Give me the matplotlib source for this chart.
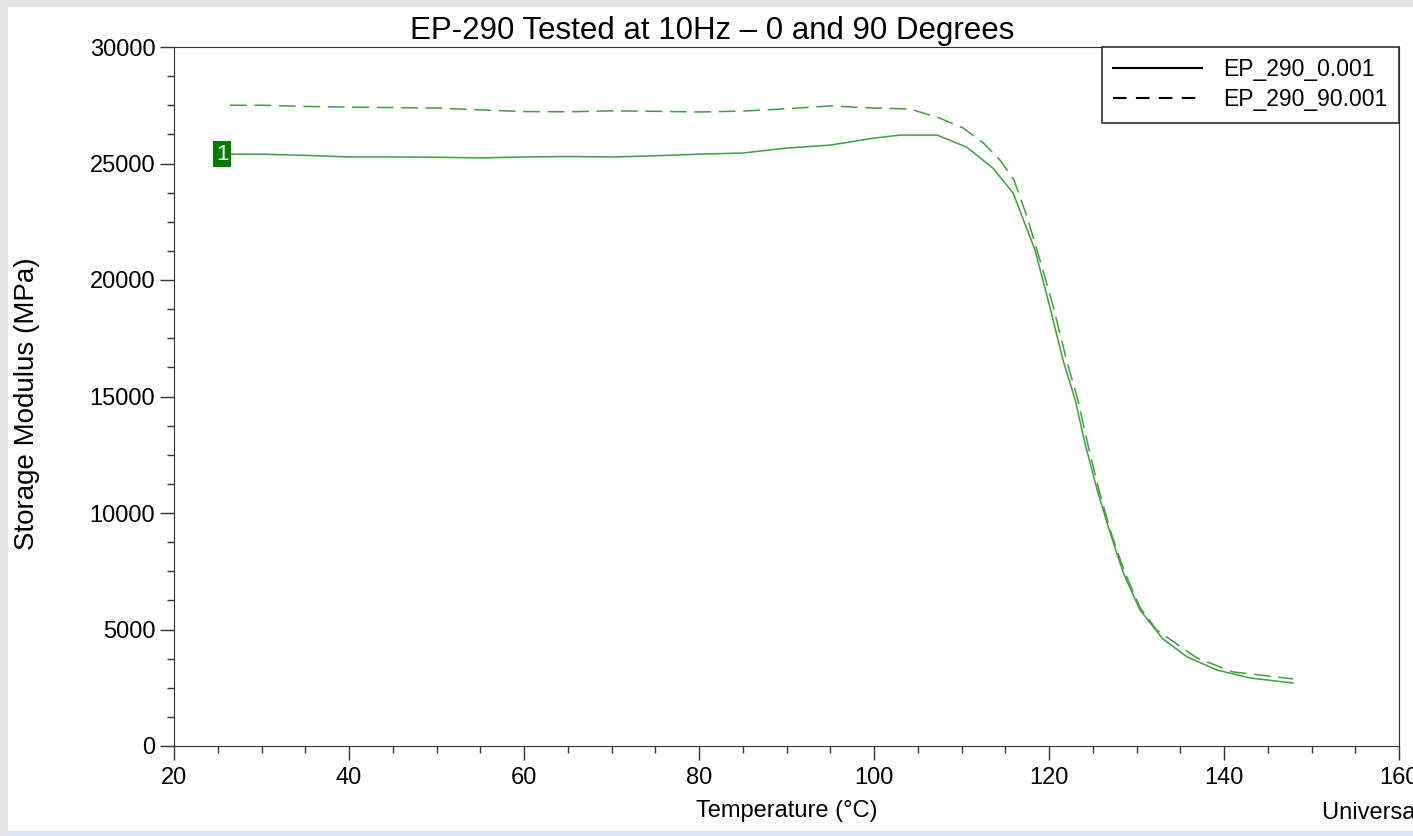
import matplotlib.pyplot as plt
from matplotlib.lines import Line2D
from matplotlib.patches import Rectangle
from matplotlib.ticker import MultipleLocator

plt.rcParams['font.family'] = ['Liberation Sans', 'DejaVu Sans']

# EP_290_0.001 (solid)
temp_0 = [26.4, 30, 35, 40, 45, 50, 55, 60, 65, 70, 75, 80, 85, 90, 95, 100, 103,
          107.2, 110.6, 113.6, 115.9, 118.4, 120.1, 121.6, 123.0, 124.1, 125.5,
          127.0, 128.5, 130.4, 133.0, 135.8, 139.2, 143.0, 147.9]
mod_0 = [25400, 25400, 25350, 25280, 25280, 25270, 25240, 25280, 25300, 25280, 25330,
         25400, 25450, 25660, 25790, 26090, 26220, 26220, 25700, 24800, 23730, 21290,
         18840, 16570, 14850, 13000, 10990, 9140, 7420, 5840, 4600, 3820, 3260,
         2920, 2700]

# EP_290_90.001 (dashed)
temp_90 = [26.4, 30, 35, 40, 45, 50, 55, 60, 65, 70, 75, 80, 85, 90, 95, 100, 104.1,
           107.5, 110.2, 112.5, 114.4, 116.0, 117.5, 119.2, 120.5, 122.0, 123.3,
           124.4, 125.7, 127.1, 128.6, 130.4, 132.3, 136.9, 141.0, 147.9]
mod_90 = [27500, 27500, 27450, 27420, 27400, 27380, 27300, 27230, 27220, 27260, 27240,
          27210, 27250, 27350, 27470, 27380, 27340, 26950, 26520, 25880, 25150, 24290,
          22700, 20560, 18840, 16570, 14850, 13000, 10990, 9140, 7500, 5950, 4980,
          3780, 3180, 2880]

labels = ['EP_290_0.001', 'EP_290_90.001']
line_color = '#3f9f3f'

fig = plt.figure(figsize=(14.13, 8.36), dpi=100, facecolor='#e4e4e4')
fig.patches.append(Rectangle((8 / 1413, 5 / 836), 1 - 8 / 1413, 1 - 12 / 836,
                             transform=fig.transFigure, facecolor='white',
                             edgecolor='none', zorder=-10))
fig.patches.append(Rectangle((8 / 1413, 0), 1, 5 / 836, transform=fig.transFigure,
                             facecolor='#dce6f2', edgecolor='none', zorder=-9))

ax = fig.add_axes([174 / 1413, 90 / 836, 1225 / 1413, 699 / 836])
ax.plot(temp_0, mod_0, color=line_color, lw=1.1)
ax.plot(temp_90, mod_90, color=line_color, lw=1.1, ls=(0, (11, 5)))

ax.set_xlim(20, 160)
ax.set_ylim(0, 30000)
ax.xaxis.set_major_locator(MultipleLocator(20))
ax.xaxis.set_minor_locator(MultipleLocator(5))
ax.yaxis.set_major_locator(MultipleLocator(5000))
ax.yaxis.set_minor_locator(MultipleLocator(1250))
ax.tick_params(which='major', length=10, width=1, labelsize=17, color='#333333')
ax.tick_params(which='minor', length=5, width=1, color='#333333')
ax.tick_params(axis='x', pad=5)
for side in ['top', 'right', 'left', 'bottom']:
    ax.spines[side].set_color('#333333')

# curve marker
ax.text(25.5, mod_0[0], '1', color='white', fontsize=16, ha='center', va='center',
        bbox=dict(boxstyle='square,pad=0.12', facecolor='#007a00', edgecolor='none'))

handles = [Line2D([], [], color='black', lw=1.5),
           Line2D([], [], color='black', lw=1.5, ls=(0, (6.5, 4.5)))]
leg = ax.legend(handles, labels, loc='upper right', borderaxespad=0, fontsize=16.5,
                fancybox=False, framealpha=1, edgecolor='#333333', handlelength=3.85,
                handletextpad=0.95, borderpad=0.5, labelspacing=0.3)
leg.get_frame().set_linewidth(1.2)

fig.text(0.504, 0.963, 'EP-290 Tested at 10Hz \u2013 0 and 90 Degrees', ha='center',
         va='center', fontsize=22.5)
ax.set_xlabel('Temperature (\u00b0C)', fontsize=17, labelpad=8)
fig.text(27 / 1413, 0.517, 'Storage Modulus (MPa)', fontsize=20, rotation=90,
         ha='center', va='center')
fig.text(1322 / 1413, 0.028, 'Universal V4.5A TA Instruments', fontsize=17, ha='left',
         va='center')

fig.savefig('out.png', dpi=100, facecolor=fig.get_facecolor())
